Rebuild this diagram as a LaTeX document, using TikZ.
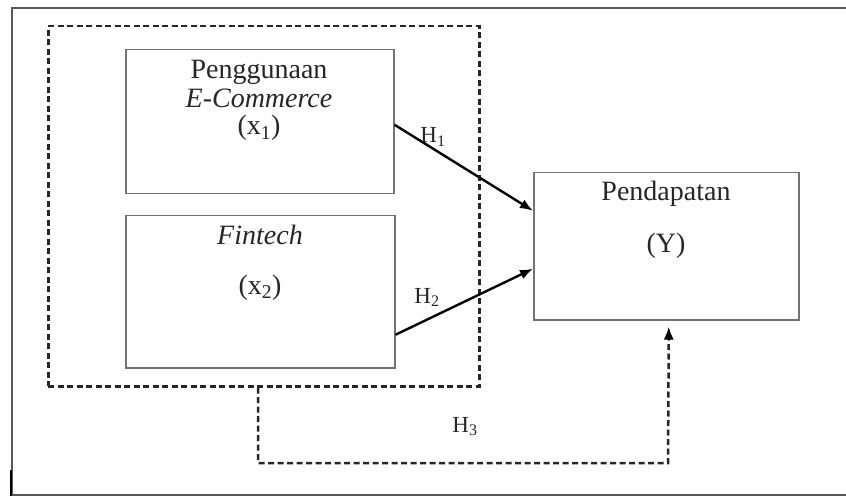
\documentclass[tikz,border=0pt]{standalone}
\usepackage{fontspec}
\setmainfont{Liberation Serif}
\usetikzlibrary{arrows.meta,calc}
\begin{document}
\begin{tikzpicture}[x=1pt,y=-1pt,
  varbox/.style={draw=black!55,line width=1.5pt,inner sep=0pt,anchor=north west},
  dashbox/.style={draw=black!85,line width=2.5pt,dash pattern=on 6pt off 3.5pt,inner sep=0pt,anchor=north west},
  dashline/.style={draw=black!85,line width=2.5pt,dash pattern=on 6pt off 3.5pt},
  main/.style={font=\fontsize{28}{30}\selectfont,inner sep=0pt,anchor=base,text=black!85},
  hlab/.style={font=\fontsize{23}{25}\selectfont,inner sep=0pt,anchor=base,text=black!85},
  arr/.style={draw=black,line width=2.4pt,-{Latex[length=13pt,width=10pt]}}]
\useasboundingbox (0,0) rectangle (846,497);
% outer frame
\draw[black!65,line width=2pt] (850,8) -- (12,8) -- (12,495) -- (850,495);
\draw[black,line width=2pt] (11,470) -- (11,496);
% dashed group
\node[dashbox,minimum width=431pt,minimum height=360pt] (grp) at (47,25) {};
% boxes
\node[varbox,minimum width=268pt,minimum height=144pt] (b1) at (125,49) {};
\node[varbox,minimum width=269pt,minimum height=152pt] (b2) at (125,215) {};
\node[varbox,minimum width=265pt,minimum height=147pt] (by) at (533,172) {};
% texts
\node[main] (t1a) at (259,79) {Penggunaan};
\node[main] (t1b) at (259,108) {\itshape E-Commerce};
\node[main] (t1c) at (259,135) {(x\textsubscript{1})};
\node[main] (t2a) at (260,244) {\itshape Fintech};
\node[main] (t2b) at (260,294) {(x\textsubscript{2})};
\node[main] (tya) at (666,201) {Pendapatan};
\node[main] (tyb) at (666,252) {(Y)};
% arrows
\draw[arr] ([yshift=-3pt]b1.east) -- ([yshift=35.5pt]by.west);
\draw[arr] ([yshift=-43pt]b2.east) -- ([yshift=-22.5pt]by.west);
\node[hlab] (h1) at (433,143) {H\textsubscript{1}};
\node[hlab] (h2) at (427,303) {H\textsubscript{2}};
% H3 dashed connector
\coordinate (c1) at ($(grp.south west)+(211,0)$);
\coordinate (c2) at (258,463);
\coordinate (c3) at (668,463);
\coordinate (c4) at ([xshift=2.5pt,yshift=-6pt]by.south);
\draw[dashline] (c1) -- (c2) -- (c3) -- ([yshift=-12pt]c4);
\draw[draw=black,line width=2.4pt,-{Latex[length=13pt,width=10pt]}] ([yshift=-13pt]c4) -- (c4);
\node[hlab] (h3) at (465,432) {H\textsubscript{3}};
\end{tikzpicture}
\end{document}
